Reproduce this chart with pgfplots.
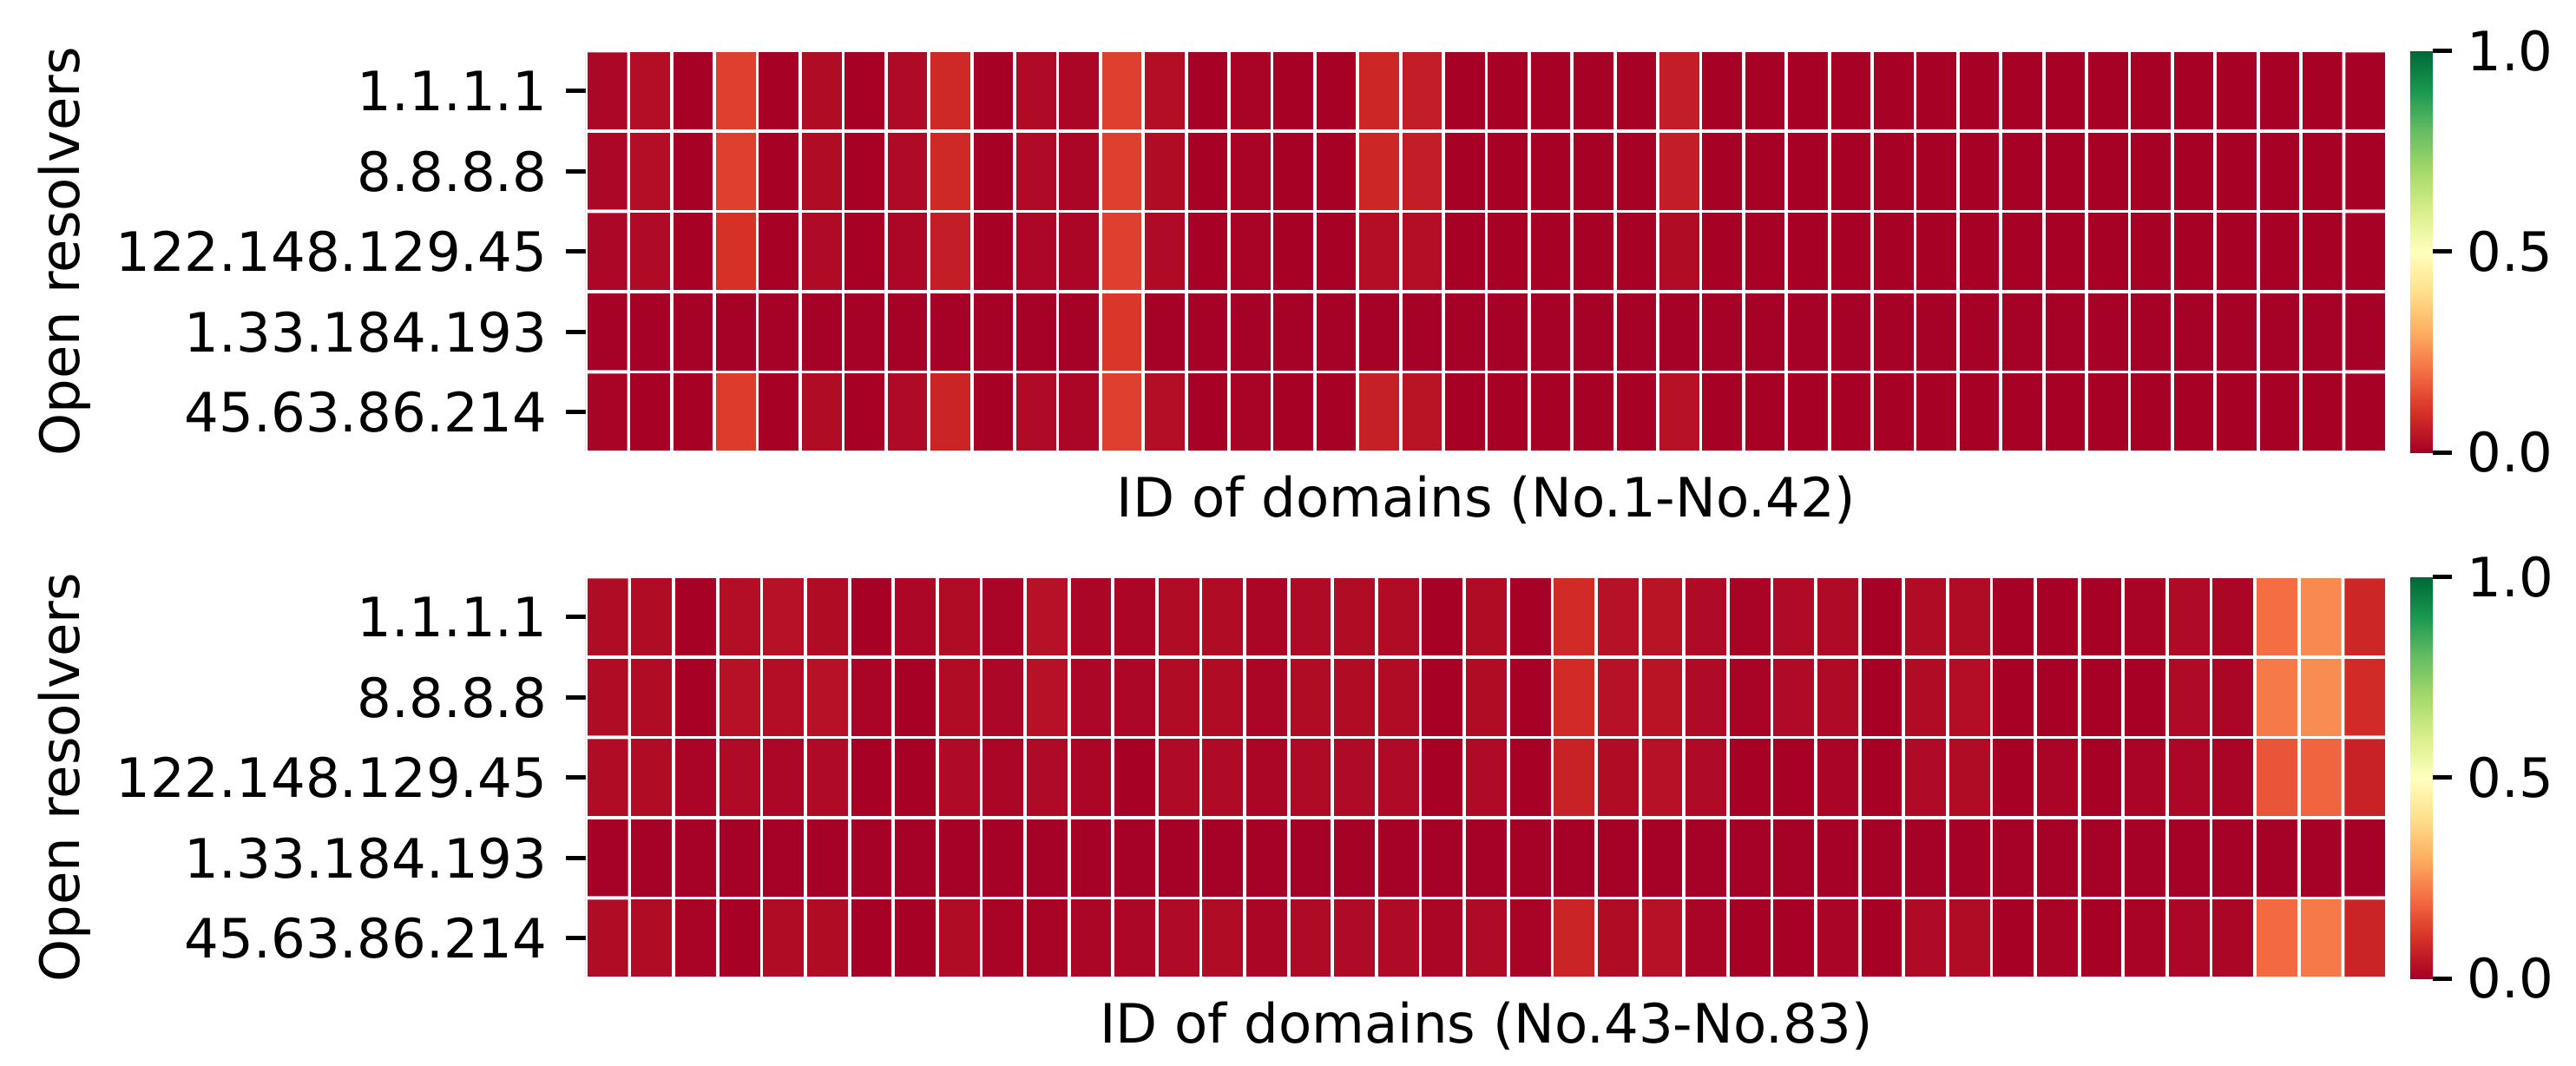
\documentclass[border=0pt]{standalone}
\usepackage{pgfplots}
\pgfplotsset{compat=1.18}
\usepackage{fontspec}
\setmainfont{DejaVu Sans}
\pgfplotsset{
  colormap={RdYlGn}{rgb255(0)=(165,0,38) rgb255(1)=(215,48,39) rgb255(2)=(244,109,67) rgb255(3)=(253,174,97) rgb255(4)=(254,224,139) rgb255(5)=(255,255,191) rgb255(6)=(217,239,139) rgb255(7)=(166,217,106) rgb255(8)=(102,189,99) rgb255(9)=(26,152,80) rgb255(10)=(0,104,55)},
  heat/.style={
    scale only axis, width=332pt, height=74pt,
    ymin=-0.5, ymax=4.5, enlargelimits=false,
    xtick=\empty, ytick={0,1,2,3,4},
    yticklabels={45.63.86.214,1.33.184.193,122.148.129.45,8.8.8.8,1.1.1.1},
    axis lines=left, axis line style={draw=none,-},
    tick align=outside, major tick length=3.6pt,
    tick style={black, line width=0.8pt},
    ytick pos=left,
    /pgf/number format/assume math mode=true,
    point meta min=0, point meta max=1,
    ylabel={Open resolvers},
    ylabel style={at={(axis description cs:-0.2813,0.5)}, anchor=base},
    xlabel style={at={(axis description cs:0.5,0)}, anchor=base, yshift=-11.84pt},
    colorbar,
    colorbar style={
      at={(parent axis.north east)}, anchor=north west, xshift=-4.215pt,
      scale only axis, width=4.16pt, height=74pt,
      ytick={0,0.5,1}, yticklabels={0.0,0.5,1.0},
      axis line style={draw=none}, tick align=outside, major tick length=3.5pt,
      ytick pos=right, yticklabel pos=right,
      tick style={black, line width=0.8pt},
      yticklabel style={anchor=west, inner sep=0pt, xshift=2.6pt},
      /pgf/number format/assume math mode=true,
    },
  },
  cells/.style={matrix plot*, shader=faceted, faceted color=white, line width=0.6pt, point meta=explicit},
}
\begin{document}
\begin{tikzpicture}
\path[use as bounding box] (0,0) rectangle (474.88pt,196.32pt);
\begin{axis}[heat, at={(108pt,112.96pt)}, anchor=south west,
  xmin=-0.5, xmax=41.5, xlabel={ID of domains (No.1-No.42)}]
\addplot[cells, mesh/cols=42] table[row sep=\\, header=false, x expr={mod(\coordindex,42)}, y expr={4-floor((\coordindex+0.5)/42)}, meta index=0] {
0.015\\0.03\\0.005\\0.125\\0.005\\0.025\\0.005\\0.02\\0.085\\0.005\\0.02\\0.012\\0.125\\0.03\\0.005\\0.008\\0.005\\0.005\\0.08\\0.06\\0.005\\0.005\\0.005\\0.005\\0.005\\0.06\\0.005\\0.005\\0.005\\0.005\\0.005\\0.005\\0.005\\0.005\\0.005\\0.005\\0.005\\0.005\\0.005\\0.005\\0.005\\0.005\\
0.015\\0.03\\0.005\\0.125\\0.005\\0.025\\0.005\\0.02\\0.085\\0.005\\0.02\\0.012\\0.125\\0.025\\0.005\\0.008\\0.005\\0.005\\0.08\\0.06\\0.005\\0.005\\0.005\\0.005\\0.005\\0.06\\0.005\\0.005\\0.005\\0.005\\0.005\\0.005\\0.005\\0.005\\0.005\\0.005\\0.005\\0.005\\0.005\\0.005\\0.005\\0.005\\
0.015\\0.02\\0.005\\0.1\\0.005\\0.02\\0.005\\0.015\\0.06\\0.005\\0.015\\0.012\\0.125\\0.02\\0.005\\0.008\\0.005\\0.005\\0.03\\0.03\\0.005\\0.005\\0.005\\0.005\\0.005\\0.025\\0.005\\0.005\\0.005\\0.005\\0.005\\0.005\\0.005\\0.005\\0.005\\0.005\\0.005\\0.005\\0.005\\0.005\\0.005\\0.005\\
0.003\\0.003\\0.003\\0.003\\0.003\\0.003\\0.003\\0.003\\0.003\\0.003\\0.003\\0.003\\0.11\\0.003\\0.003\\0.003\\0.003\\0.003\\0.003\\0.003\\0.003\\0.003\\0.003\\0.003\\0.003\\0.003\\0.003\\0.003\\0.003\\0.003\\0.003\\0.003\\0.003\\0.003\\0.003\\0.003\\0.003\\0.003\\0.003\\0.003\\0.003\\0.003\\
0.008\\0.005\\0.005\\0.12\\0.005\\0.025\\0.005\\0.02\\0.075\\0.005\\0.02\\0.012\\0.125\\0.03\\0.005\\0.008\\0.005\\0.005\\0.065\\0.04\\0.005\\0.005\\0.005\\0.005\\0.005\\0.035\\0.005\\0.005\\0.005\\0.005\\0.005\\0.005\\0.005\\0.005\\0.005\\0.005\\0.005\\0.005\\0.005\\0.005\\0.005\\0.005\\
};
\end{axis}
\begin{axis}[heat, at={(108pt,16pt)}, anchor=south west,
  xmin=-0.5, xmax=40.5, xlabel={ID of domains (No.43-No.83)}]
\addplot[cells, mesh/cols=41] table[row sep=\\, header=false, x expr={mod(\coordindex,41)}, y expr={4-floor((\coordindex+0.5)/41)}, meta index=0] {
0.025\\0.025\\0.005\\0.03\\0.035\\0.025\\0.005\\0.015\\0.025\\0.01\\0.035\\0.012\\0.012\\0.025\\0.025\\0.012\\0.02\\0.025\\0.025\\0.005\\0.025\\0.005\\0.09\\0.035\\0.04\\0.02\\0.008\\0.02\\0.02\\0.005\\0.025\\0.025\\0.005\\0.005\\0.005\\0.008\\0.02\\0.012\\0.2\\0.245\\0.08\\
0.025\\0.025\\0.005\\0.035\\0.03\\0.035\\0.01\\0.005\\0.025\\0.015\\0.035\\0.015\\0.015\\0.025\\0.025\\0.012\\0.025\\0.025\\0.025\\0.005\\0.025\\0.005\\0.09\\0.035\\0.04\\0.02\\0.008\\0.02\\0.02\\0.005\\0.025\\0.03\\0.005\\0.005\\0.005\\0.005\\0.02\\0.012\\0.22\\0.25\\0.09\\
0.025\\0.025\\0.01\\0.02\\0.015\\0.02\\0.005\\0.005\\0.02\\0.012\\0.02\\0.012\\0.005\\0.02\\0.02\\0.012\\0.02\\0.02\\0.02\\0.005\\0.02\\0.005\\0.07\\0.025\\0.035\\0.02\\0.005\\0.005\\0.01\\0.005\\0.02\\0.025\\0.005\\0.01\\0.005\\0.01\\0.015\\0.01\\0.16\\0.185\\0.07\\
0.003\\0.003\\0.003\\0.003\\0.003\\0.003\\0.003\\0.003\\0.003\\0.003\\0.003\\0.003\\0.003\\0.003\\0.003\\0.003\\0.003\\0.003\\0.003\\0.003\\0.003\\0.003\\0.003\\0.003\\0.003\\0.003\\0.003\\0.003\\0.003\\0.003\\0.003\\0.003\\0.003\\0.003\\0.003\\0.003\\0.003\\0.003\\0.003\\0.003\\0.003\\
0.025\\0.025\\0.008\\0.005\\0.025\\0.025\\0.005\\0.005\\0.025\\0.008\\0.008\\0.012\\0.015\\0.02\\0.025\\0.012\\0.02\\0.02\\0.02\\0.012\\0.02\\0.008\\0.075\\0.025\\0.035\\0.01\\0.005\\0.005\\0.01\\0.005\\0.02\\0.025\\0.005\\0.008\\0.005\\0.008\\0.015\\0.012\\0.195\\0.22\\0.075\\
};
\end{axis}
\end{tikzpicture}
\end{document}
